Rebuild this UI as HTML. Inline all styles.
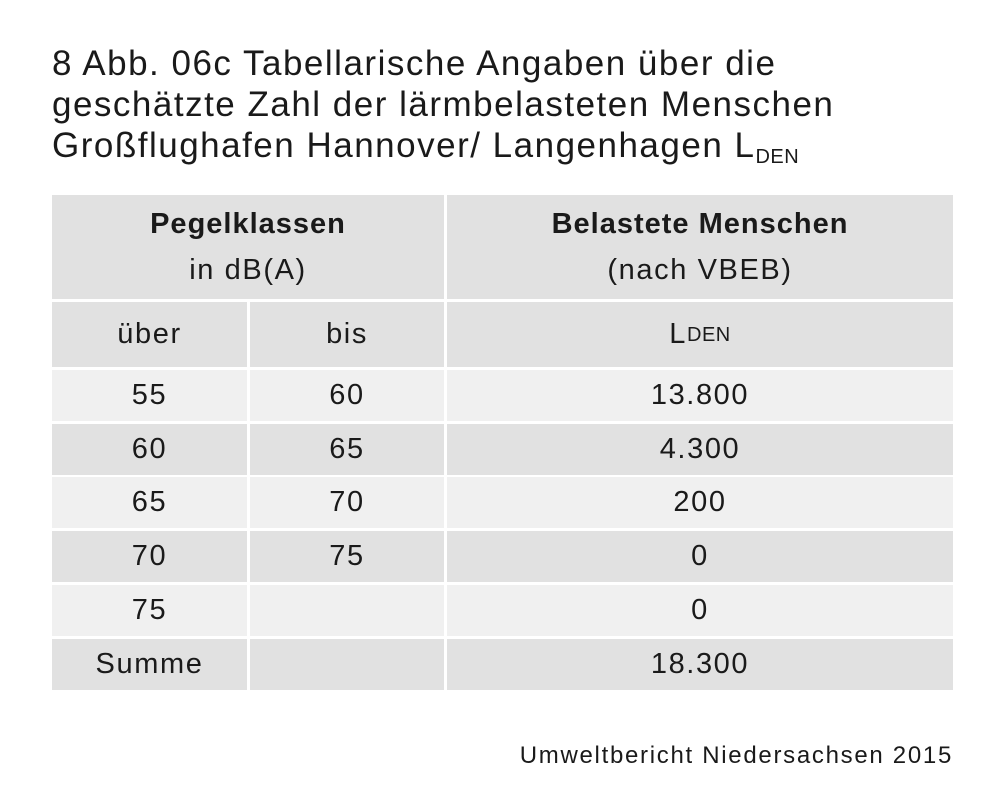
<!DOCTYPE html>
<html><head><meta charset="utf-8"><style>
body{margin:0;width:1000px;height:809px;background:#fff;font-family:"Liberation Sans",sans-serif;color:#1a1a1a;position:relative;overflow:hidden}
.t{position:absolute;left:52px;top:43px;font-size:35px;line-height:41px;letter-spacing:1.5px;white-space:nowrap}
.c{position:absolute;display:flex;align-items:center;justify-content:center;font-size:29px;text-align:center;letter-spacing:1.6px}
.d{background:#e1e1e1}.l{background:#f0f0f0}
sub{font-size:20px;vertical-align:-6px;line-height:0;letter-spacing:0.5px}
.src{position:absolute;right:47px;top:742px;font-size:24px;letter-spacing:1.7px;white-space:nowrap}
b{font-weight:bold;letter-spacing:1px}
</style></head><body>
<div class="t">8 Abb. 06c Tabellarische Angaben über die<br>geschätzte Zahl der lärmbelasteten Menschen<br>Großflughafen Hannover/ Langenhagen L<sub>DEN</sub></div>

<div class="c d" style="left:52px;top:195px;width:392px;height:104px;flex-direction:column;line-height:46px"><b>Pegelklassen</b><span>in dB(A)</span></div>
<div class="c d" style="left:447px;top:195px;width:506px;height:104px;flex-direction:column;line-height:46px"><b>Belastete Menschen</b><span>(nach VBEB)</span></div>

<div class="c d" style="left:52px;top:302px;width:195px;height:65px">über</div>
<div class="c d" style="left:250px;top:302px;width:194px;height:65px">bis</div>
<div class="c d" style="left:447px;top:302px;width:506px;height:65px">L<sub>DEN</sub></div>

<div class="c l" style="left:52px;top:370px;width:195px;height:51px">55</div>
<div class="c l" style="left:250px;top:370px;width:194px;height:51px">60</div>
<div class="c l" style="left:447px;top:370px;width:506px;height:51px">13.800</div>

<div class="c d" style="left:52px;top:424px;width:195px;height:51px">60</div>
<div class="c d" style="left:250px;top:424px;width:194px;height:51px">65</div>
<div class="c d" style="left:447px;top:424px;width:506px;height:51px">4.300</div>

<div class="c l" style="left:52px;top:477px;width:195px;height:51px">65</div>
<div class="c l" style="left:250px;top:477px;width:194px;height:51px">70</div>
<div class="c l" style="left:447px;top:477px;width:506px;height:51px">200</div>

<div class="c d" style="left:52px;top:531px;width:195px;height:51px">70</div>
<div class="c d" style="left:250px;top:531px;width:194px;height:51px">75</div>
<div class="c d" style="left:447px;top:531px;width:506px;height:51px">0</div>

<div class="c l" style="left:52px;top:585px;width:195px;height:51px">75</div>
<div class="c l" style="left:250px;top:585px;width:194px;height:51px"></div>
<div class="c l" style="left:447px;top:585px;width:506px;height:51px">0</div>

<div class="c d" style="left:52px;top:639px;width:195px;height:51px">Summe</div>
<div class="c d" style="left:250px;top:639px;width:194px;height:51px"></div>
<div class="c d" style="left:447px;top:639px;width:506px;height:51px">18.300</div>

<div class="src">Umweltbericht Niedersachsen 2015</div>
</body></html>
